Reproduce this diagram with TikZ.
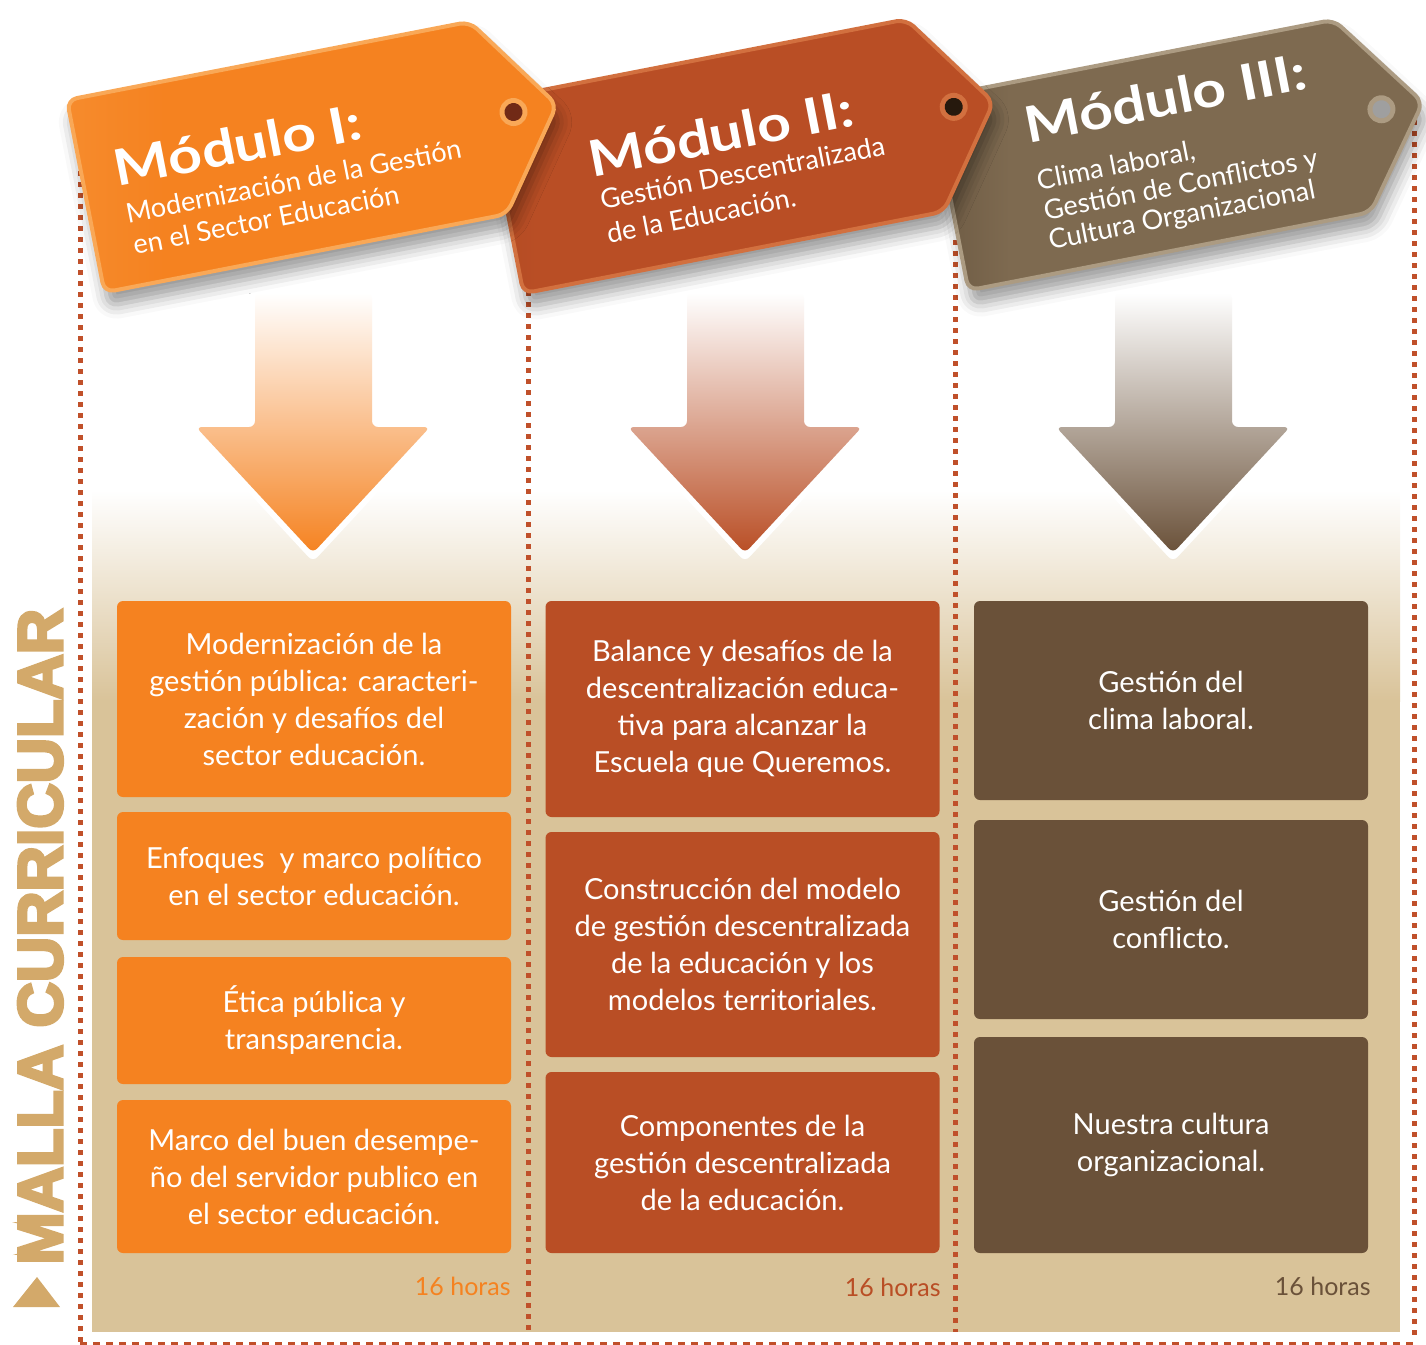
\documentclass[tikz,border=0pt]{standalone}
\usepackage{graphicx}
\usepackage{fontspec}
\setmainfont{Lato}
\newfontfamily\mallafont{Liberation Sans Bold}[FakeBold=5]
\usepackage{tikz}
\usetikzlibrary{shadows.blur}
\definecolor{mod-orange}{HTML}{F58220}
\definecolor{mod-orange-lt}{HTML}{F8A24C}
\definecolor{mod-orange-rim}{HTML}{F9A857}
\definecolor{mod-rust}{HTML}{B94E25}
\definecolor{mod-rust-dk}{HTML}{8E341B}
\definecolor{mod-rust-rim}{HTML}{D2703F}
\definecolor{mod-brown}{HTML}{6A5139}
\definecolor{mod-taupe}{HTML}{7E6A50}
\definecolor{mod-taupe-dk}{HTML}{34261A}
\definecolor{mod-taupe-rim}{HTML}{AC9B82}
\definecolor{beige}{HTML}{D9C399}
\definecolor{dot-red}{HTML}{C0502A}
\definecolor{malla-tan}{HTML}{D3A96A}
\pgfdeclarehorizontalshading{tagI}{100bp}{color(0bp)=(mod-orange-lt); color(35bp)=(mod-orange); color(100bp)=(mod-orange)}
\pgfdeclarehorizontalshading{tagII}{100bp}{color(0bp)=(mod-rust-dk); color(30bp)=(mod-rust); color(100bp)=(mod-rust)}
\pgfdeclarehorizontalshading{tagIII}{100bp}{color(0bp)=(mod-taupe-dk); color(33bp)=(mod-taupe); color(100bp)=(mod-taupe)}

\tikzset{
  box/.style={rounded corners=3pt, minimum width=197pt, inner sep=0pt,
              align=center, text=white, font=\fontsize{14.5}{18.5}\selectfont},
  dotline/.style={draw=dot-red, line width=2.5pt, dash pattern=on 2.5pt off 3pt},
  dashline/.style={draw=dot-red, line width=1.5pt, dash pattern=on 3.5pt off 3pt},
  tagshape/.style={rounded corners=5pt, line width=2pt,
                   blur shadow={shadow xshift=2pt, shadow yshift=-7pt,
                                shadow blur radius=7pt, shadow opacity=40}},
  tagtitle/.style={anchor=base west, inner sep=0pt, text=white, transform shape,
                   font=\fontsize{25}{25}\bfseries\selectfont},
  tagsub/.style={anchor=base west, inner sep=0pt, text=white, transform shape,
                 font=\fontsize{13.6}{15}\selectfont},
  hours/.style={anchor=base east, inner sep=0pt, font=\fontsize{12.5}{12.5}\selectfont},
}

\begin{document}
\begin{tikzpicture}[x=0.5pt, y=-0.5pt]
\useasboundingbox (0,0) rectangle (1426,1345);

% Beige ground
\fill[beige] (92,700) rectangle (1400,1332);
\shade[top color=white, bottom color=beige] (92,490) rectangle (1400,701);

% Dotted frame
\draw[dotline] (80,160) -- (80,1343);
\draw[dotline] (528,280) -- (528,1332);
\draw[dotline] (955,240) -- (955,1332);
\draw[dotline] (1414,120) -- (1414,1340);
\draw[dashline] (80,1343) -- (1414,1343);

% ---------------------------------------------------
% Arrows
\draw[white, line width=6pt, line join=round]
  (255,293) -- (255,427) -- (196,427) -- (313,553) -- (430,427) -- (372,427) -- (372,293);
\shade[top color=white, bottom color=mod-orange, rounded corners=3pt]
  (255,293) -- (255,427) -- (196,427) -- (313,553) -- (430,427) -- (372,427) -- (372,293) -- cycle;

\draw[white, line width=6pt, line join=round]
  (687,293) -- (687,427) -- (628,427) -- (745,553) -- (862,427) -- (804,427) -- (804,293);
\shade[top color=white, bottom color=mod-rust, rounded corners=3pt]
  (687,293) -- (687,427) -- (628,427) -- (745,553) -- (862,427) -- (804,427) -- (804,293) -- cycle;

\draw[white, line width=6pt, line join=round]
  (1115,293) -- (1115,427) -- (1056,427) -- (1173,553) -- (1290,427) -- (1232,427) -- (1232,293);
\shade[top color=white, bottom color=mod-brown, rounded corners=3pt]
  (1115,293) -- (1115,427) -- (1056,427) -- (1173,553) -- (1290,427) -- (1232,427) -- (1232,293) -- cycle;

% ---------------------------------------------------
% Module I boxes
\node[box, fill=mod-orange, minimum height=98pt] (modI-a) at (314,699)
  {Modernización de la\\gestión pública: caracteri-\\zación y desafíos del\\sector educación.};
\node[box, fill=mod-orange, minimum height=64pt] (modI-b) at (314,876)
  {Enfoques~ y marco político\\en el sector educación.};
\node[box, fill=mod-orange, minimum height=63.5pt] (modI-c) at (314,1020.5)
  {Ética pública y\\transparencia.};
\node[box, fill=mod-orange, minimum height=76.5pt] (modI-d) at (314,1176.5)
  {Marco del buen desempe-\\ño del servidor publico en\\el sector educación.};
\node[hours, text=mod-orange] (modI-h) at (511,1295) {16 horas};

% Module II boxes
\node[box, fill=mod-rust, minimum height=108pt] (modII-a) at (742.5,709)
  {Balance y desafíos de la\\descentralización educa-\\tiva para alcanzar la\\Escuela que Queremos.};
\node[box, fill=mod-rust, minimum height=112.5pt] (modII-b) at (742.5,944.5)
  {Construcción del modelo\\de gestión descentralizada\\de la educación y los\\modelos territoriales.};
\node[box, fill=mod-rust, minimum height=90.5pt] (modII-c) at (742.5,1162.5)
  {Componentes de la\\gestión descentralizada\\de la educación.};
\node[hours, text=mod-rust] (modII-h) at (941,1296) {16 horas};

% Module III boxes
\node[box, fill=mod-brown, minimum height=99.5pt] (modIII-a) at (1171,700.5)
  {Gestión del\\clima laboral.};
\node[box, fill=mod-brown, minimum height=99.5pt] (modIII-b) at (1171,919.5)
  {Gestión del\\conflicto.};
\node[box, fill=mod-brown, minimum height=108pt] (modIII-c) at (1171,1145)
  {Nuestra cultura\\organizacional.};
\node[hours, text=mod-brown] (modIII-h) at (1371,1295) {16 horas};

% ---------------------------------------------------
% Tags (III below II below I)
\begin{scope}[shift={(931,98)}, rotate=11]
  \draw[tagshape, shading=tagIII, draw=mod-taupe-rim]
    (0,0) -- (410,0) -- (482,98) -- (410,196) -- (0,196) -- cycle;
  \fill[mod-taupe-rim] (440,97) circle (7pt);
  \fill[gray!75] (440,97) circle (4.5pt);
  \node[tagtitle] (tagIII-t) at (87,63) {\scalebox{1.18}[1]{Módulo III:}};
  \node[tagsub] (tagIII-a) at (88,111) {Clima laboral,};
  \node[tagsub] (tagIII-b) at (89,142) {Gestión de Conflictos y};
  \node[tagsub] (tagIII-c) at (88,172) {Cultura Organizacional};
\end{scope}

\begin{scope}[shift={(486,101)}, rotate=11]
  \draw[tagshape, shading=tagII, draw=mod-rust-rim]
    (0,0) -- (428,0) -- (498,98) -- (428,196) -- (0,196) -- cycle;
  \fill[mod-rust-rim] (458,95) circle (7pt);
  \fill[black!80!brown] (458,95) circle (4.5pt);
  \node[tagtitle] (tagII-t) at (90,95) {\scalebox{1.18}[1]{Módulo II:}};
  \node[tagsub] (tagII-a) at (93,129) {Gestión Descentralizada};
  \node[tagsub] (tagII-b) at (93,163) {de la Educación.};
\end{scope}

\begin{scope}[shift={(67,100)}, rotate=11]
  \draw[tagshape, shading=tagI, draw=mod-orange-rim]
    (0,0) -- (410,0) -- (480,98) -- (410,196) -- (0,196) -- cycle;
  \fill[mod-orange-rim] (436,97) circle (7pt);
  \fill[mod-rust-dk!80!black] (436,97) circle (4.5pt);
  \node[tagtitle] (tagI-t) at (33,95) {\scalebox{1.18}[1]{Módulo I:}};
  \node[tagsub] (tagI-a) at (36,132.5) {Modernización de la Gestión};
  \node[tagsub] (tagI-b) at (37,165) {en el Sector Educación};
\end{scope}

% ---------------------------------------------------
% Side label
\node[rotate=90, anchor=base west, inner sep=0pt, text=malla-tan,
      font=\mallafont\fontsize{31.4}{31.4}\selectfont] (malla) at (62,1265) {MALLA CURRICULAR};
\fill[malla-tan] (13,1307) -- (60,1307) -- (37,1277) -- cycle;
\end{tikzpicture}
\end{document}
